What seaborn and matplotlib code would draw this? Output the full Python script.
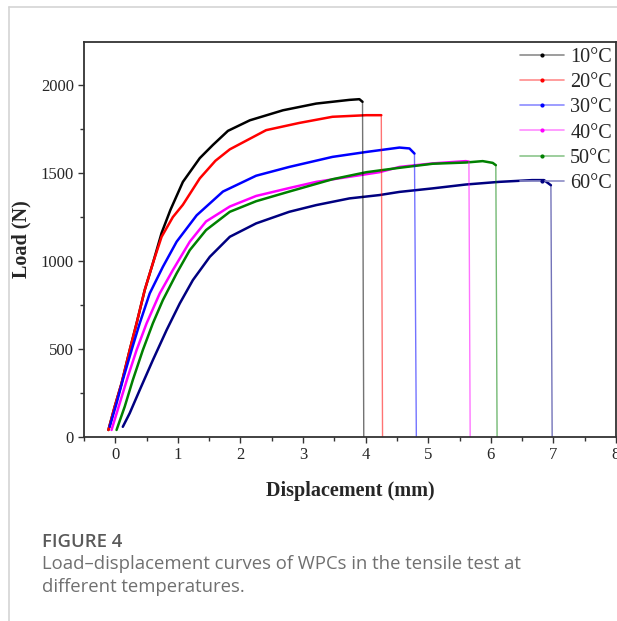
import numpy as np
import pandas as pd
import matplotlib
matplotlib.use("Agg")
import matplotlib.pyplot as plt
from matplotlib.lines import Line2D
from matplotlib.ticker import MultipleLocator
from matplotlib.colors import to_rgb
import seaborn as sns

# Load-displacement readings (mm, N); last point of each is the fracture drop
temps = ['10°C', '20°C', '30°C', '40°C', '50°C', '60°C']
colors = ['#000000', '#ff0000', '#0000ff', '#ff00ff', '#008000', '#000080']

disp_10 = [-0.11, -0.01, 0.10, 0.23, 0.34, 0.47, 0.60, 0.74, 0.88, 1.08, 1.22, 1.35, 1.56, 1.80, 2.15, 2.68, 3.21, 3.74, 3.90, 3.95, 3.97]
load_10 = [40, 172, 305, 494, 646, 835, 987, 1160, 1290, 1450, 1520, 1585, 1660, 1740, 1800, 1857, 1895, 1916, 1920, 1905, 0]

disp_20 = [-0.11, -0.01, 0.10, 0.23, 0.34, 0.47, 0.60, 0.74, 0.92, 1.08, 1.35, 1.60, 1.83, 2.41, 2.94, 3.47, 4.01, 4.25, 4.27]
load_20 = [40, 172, 305, 494, 646, 835, 987, 1138, 1250, 1320, 1470, 1570, 1635, 1744, 1785, 1820, 1829, 1829, 0]

disp_30 = [-0.09, 0.02, 0.12, 0.26, 0.39, 0.55, 0.76, 0.98, 1.30, 1.72, 2.25, 2.78, 3.47, 4.01, 4.54, 4.70, 4.78, 4.81]
load_30 = [58, 191, 324, 494, 646, 816, 967, 1110, 1260, 1395, 1485, 1535, 1592, 1620, 1645, 1640, 1611, 0]

disp_40 = [-0.06, 0.07, 0.20, 0.34, 0.50, 0.71, 0.92, 1.19, 1.45, 1.83, 2.25, 2.78, 3.21, 3.74, 4.22, 4.54, 5.07, 5.60, 5.65, 5.67]
load_40 = [40, 191, 342, 494, 646, 816, 949, 1110, 1225, 1310, 1370, 1415, 1450, 1479, 1505, 1535, 1555, 1568, 1565, 0]

disp_50 = [0.02, 0.15, 0.28, 0.44, 0.60, 0.76, 0.98, 1.19, 1.45, 1.83, 2.25, 2.78, 3.47, 4.01, 4.54, 5.07, 5.60, 5.87, 6.03, 6.08, 6.10]
load_50 = [40, 172, 324, 494, 646, 778, 930, 1062, 1176, 1280, 1340, 1395, 1465, 1505, 1530, 1553, 1560, 1568, 1558, 1545, 0]

disp_60 = [0.12, 0.23, 0.39, 0.60, 0.82, 1.03, 1.24, 1.51, 1.83, 2.25, 2.78, 3.21, 3.74, 4.22, 4.54, 5.07, 5.60, 6.13, 6.66, 6.85, 6.96, 6.98]
load_60 = [58, 135, 267, 437, 608, 759, 892, 1024, 1138, 1214, 1280, 1318, 1356, 1375, 1393, 1413, 1435, 1450, 1460, 1460, 1431, 0]

all_disp = [disp_10, disp_20, disp_30, disp_40, disp_50, disp_60]
all_load = [load_10, load_20, load_30, load_40, load_50, load_60]

# curve part and the final drop segment kept in separate frames
curve_rows, drop_rows = [], []
for t, d, l in zip(temps, all_disp, all_load):
    for i in range(len(d) - 1):
        curve_rows.append({'temp': t, 'disp': d[i], 'load': l[i]})
    for i in (len(d) - 2, len(d) - 1):
        drop_rows.append({'temp': t, 'disp': d[i], 'load': l[i]})
curves = pd.DataFrame(curve_rows)
drops = pd.DataFrame(drop_rows)

sns.set_style("ticks")
plt.rcParams['font.family'] = ['Liberation Serif', 'DejaVu Serif']

fig = plt.figure(figsize=(6.17, 6.21), dpi=100)
ax = fig.add_axes([84 / 617, 1 - 437 / 621, 532 / 617, 395 / 621])

pal = dict(zip(temps, colors))
sns.lineplot(data=curves, x='disp', y='load', hue='temp', palette=pal, units='temp',
             estimator=None, sort=False, legend=False, lw=1.8, ax=ax)
sns.lineplot(data=drops, x='disp', y='load', hue='temp', palette=pal, units='temp',
             estimator=None, sort=False, legend=False, lw=1.0, alpha=0.55, ax=ax)

ax.set_xlim(-0.5, 8)
ax.set_ylim(0, 2245)
ax.xaxis.set_major_locator(MultipleLocator(1))
ax.xaxis.set_minor_locator(MultipleLocator(0.5))
ax.yaxis.set_major_locator(MultipleLocator(500))
ax.yaxis.set_minor_locator(MultipleLocator(250))
ax.tick_params(which='major', direction='out', length=4.3, width=1.0, color='#333333',
               labelsize=12, pad=3, top=False, right=False)
ax.tick_params(which='minor', direction='out', length=2.8, width=1.0, color='#333333',
               top=False, right=False)
for s in ax.spines.values():
    s.set_color('#333333')
    s.set_linewidth(1.3)

ax.set_xlabel('Displacement (mm)', fontsize=14.5, fontweight='bold')
ax.set_ylabel('Load (N)', fontsize=14.5, fontweight='bold')
ax.xaxis.set_label_coords(0.5, -0.112)
ax.yaxis.set_label_coords(-0.098, 0.5)

# legend: pale line with a solid dot in the middle
handles = []
for c in colors:
    pale = tuple(0.45 * v + 0.55 for v in to_rgb(c))
    handles.append(Line2D([], [], color=pale, lw=1.2, marker='.', markersize=4,
                          markerfacecolor=c, markeredgecolor=c))
ax.legend(handles, temps, loc='upper right', bbox_to_anchor=(1.0, 0.995), frameon=False,
          fontsize=14.5, handlelength=2.2, handletextpad=0.3, labelspacing=0.3,
          borderaxespad=0.1, borderpad=0.1)

# caption and page frame
fig.text(42 / 617, 1 - 547 / 621, 'FIGURE 4', family='Open Sans', fontweight='semibold',
         fontsize=13.3, color='#5a5a5a', va='baseline', ha='left')
fig.text(42 / 617, 1 - 569 / 621, 'Load\u2013displacement curves of WPCs in the tensile test at',
         family='Open Sans', fontsize=13.3, color='#707070', va='baseline', ha='left')
fig.text(42 / 617, 1 - 592 / 621, 'different temperatures.',
         family='Open Sans', fontsize=13.3, color='#707070', va='baseline', ha='left')
fig.add_artist(Line2D([9 / 617, 1], [1 - 7 / 621, 1 - 7 / 621], color='#d4d4d4', lw=1.2))
fig.add_artist(Line2D([9 / 617, 9 / 617], [0, 1 - 7 / 621], color='#d4d4d4', lw=1.2))

fig.savefig('out.png', dpi=100)
